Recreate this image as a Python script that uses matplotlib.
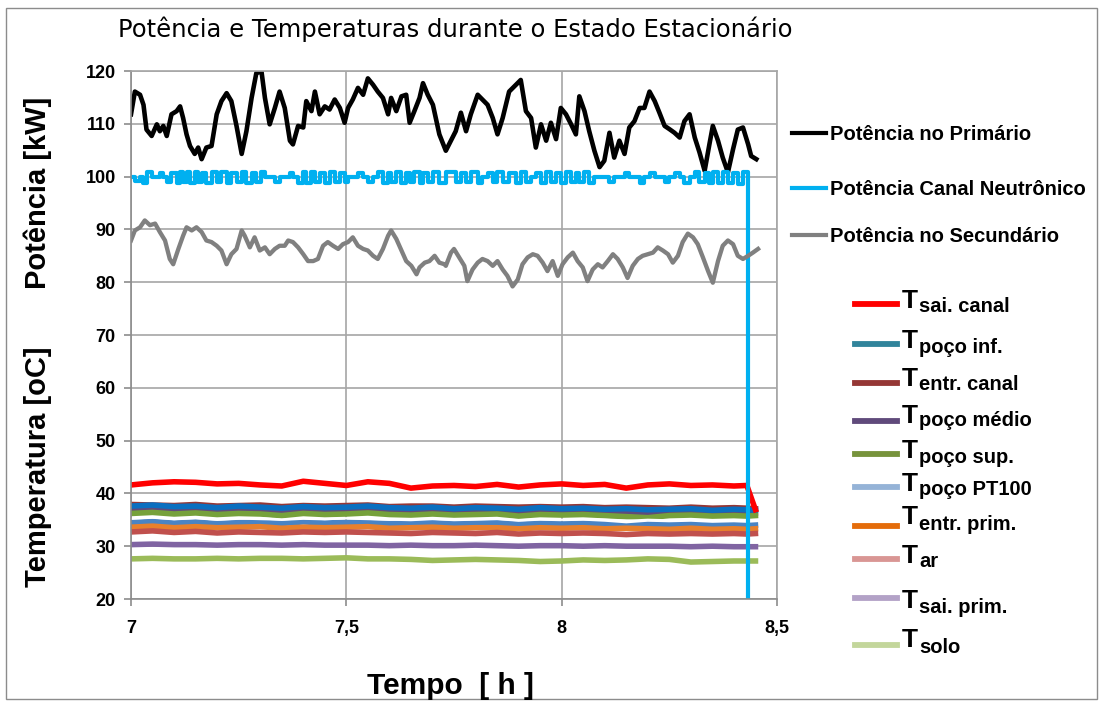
import matplotlib
matplotlib.use('Agg')
import matplotlib.pyplot as plt
from matplotlib.lines import Line2D
from matplotlib.patches import Rectangle

W, H = 1104, 702

# --- potência no primário [kW] ---
tempo_prim = [7.000, 7.009, 7.021, 7.029, 7.036, 7.048, 7.060, 7.067, 7.075, 7.083,
              7.094, 7.106, 7.114, 7.121, 7.129, 7.137, 7.148, 7.156, 7.164, 7.175,
              7.187, 7.199, 7.210, 7.222, 7.233, 7.245, 7.257, 7.268, 7.280, 7.291,
              7.303, 7.311, 7.322, 7.334, 7.345, 7.357, 7.369, 7.376, 7.388, 7.400,
              7.407, 7.419, 7.427, 7.438, 7.450, 7.461, 7.473, 7.485, 7.496, 7.504,
              7.515, 7.527, 7.539, 7.550, 7.562, 7.573, 7.585, 7.597, 7.604, 7.616,
              7.628, 7.639, 7.647, 7.658, 7.670, 7.678, 7.689, 7.701, 7.716,
              7.731, 7.754, 7.766, 7.778, 7.789, 7.805, 7.816, 7.828, 7.840, 7.851,
              7.863, 7.878, 7.894, 7.905, 7.917, 7.929, 7.940, 7.952, 7.964, 7.975,
              7.987, 7.998, 8.010, 8.022, 8.033, 8.041, 8.053, 8.064, 8.076, 8.088,
              8.099, 8.111, 8.122, 8.134, 8.146, 8.157, 8.169, 8.181, 8.192, 8.204,
              8.216, 8.227, 8.239, 8.250, 8.262, 8.274, 8.285, 8.297, 8.309, 8.320,
              8.332, 8.343, 8.351, 8.363, 8.374, 8.386, 8.398, 8.409, 8.421, 8.433,
              8.440, 8.452]
pot_prim = [111.8, 116.1, 115.5, 113.6, 108.9, 107.7, 109.9, 108.6, 109.6, 107.7,
            111.8, 112.4, 113.3, 111.1, 108.0, 105.8, 104.3, 105.5, 103.3, 105.5,
            105.8, 111.8, 114.3, 115.8, 114.3, 109.6, 104.3, 108.6, 114.9, 119.6,
            119.9, 114.9, 109.9, 113.0, 116.1, 113.0, 106.8, 106.1, 109.6, 109.3,
            114.3, 112.4, 116.1, 111.8, 113.3, 112.7, 114.6, 113.0, 110.2, 113.0,
            114.6, 116.8, 115.5, 118.6, 117.4, 116.1, 114.9, 111.8, 114.9, 112.4,
            115.2, 115.5, 110.2, 112.4, 114.9, 117.7, 115.5, 113.6, 108.0,
            104.9, 108.6, 112.1, 108.6, 111.8, 115.5, 114.6, 113.6, 111.1, 108.0,
            111.1, 116.1, 117.4, 118.3, 112.4, 111.1, 105.5, 109.9, 106.8, 110.2,
            107.1, 113.0, 111.8, 109.9, 108.0, 115.2, 112.4, 108.6, 104.9, 101.8,
            103.0, 108.3, 103.6, 106.8, 104.3, 109.3, 110.5, 113.0, 113.0, 116.1,
            114.3, 112.1, 109.6, 109.0, 108.3, 107.4, 110.5, 111.8, 107.4, 104.6,
            101.1, 106.1, 109.6, 106.8, 103.6, 100.8, 105.2, 108.9, 109.3, 106.1,
            103.9, 103.3]

# --- potência canal neutrônico [kW] (mesma base de tempo, até o desligamento) ---
pot_canal = [100, 99.2, 100, 98.8, 100.8, 100, 100, 100.6, 100, 98.9,
             100.7, 98.8, 100.8, 99.0, 100.9, 98.7, 100.8, 98.9, 100.7, 98.8,
             100.8, 99.0, 100.9, 98.8, 100.7, 98.9, 100.8, 98.7, 100.6, 99.0,
             100.8, 100, 100, 98.9, 100, 100, 100.6, 100, 98.8, 100.8,
             98.7, 100.9, 99.0, 100.7, 98.8, 100.8, 98.9, 100.6, 99.0, 100,
             100, 100.7, 100, 98.9, 100, 100.8, 98.8, 100.7, 98.9, 100.8,
             98.7, 100.6, 99.0, 100.8, 98.8, 100.7, 98.9, 100.8, 98.7,
             100.8, 98.9, 100.7, 99.0, 100.8, 98.8, 100, 100.7, 98.9, 100.8,
             99.0, 100.7, 98.8, 100.8, 98.9, 100, 100.7, 98.8, 100.8, 98.9,
             100.7, 98.8, 100.8, 99.0, 100.7, 98.9, 100.8, 98.7, 100, 100,
             100, 98.9, 100, 100, 100.6, 100, 100, 98.8, 100, 100.7,
             100, 100, 98.9, 100, 100.7, 100, 98.8, 100, 100.8, 99.0,
             100.7, 98.8, 100.8, 98.7, 100.9, 98.8, 100.7, 98.6, 100.8]
t_desliga = 8.432

# --- potência no secundário [kW] ---
tempo_sec = [7.000, 7.009, 7.021, 7.032, 7.044, 7.056, 7.067, 7.079, 7.090, 7.098,
             7.110, 7.121, 7.129, 7.141, 7.152, 7.164, 7.175, 7.187, 7.199, 7.210,
             7.222, 7.233, 7.245, 7.257, 7.264, 7.276, 7.287, 7.299, 7.311, 7.322,
             7.334, 7.345, 7.357, 7.365, 7.376, 7.388, 7.400, 7.411, 7.423, 7.434,
             7.446, 7.457, 7.469, 7.481, 7.492, 7.504, 7.515, 7.527, 7.539, 7.550,
             7.562, 7.573, 7.585, 7.597, 7.604, 7.616, 7.628, 7.639, 7.651, 7.663,
             7.670, 7.682, 7.693, 7.705, 7.716, 7.728,
             7.731, 7.743, 7.750, 7.762, 7.774, 7.781, 7.793, 7.805, 7.816, 7.828,
             7.840, 7.851, 7.863, 7.874, 7.886, 7.898, 7.909, 7.921, 7.933, 7.944,
             7.956, 7.967, 7.979, 7.991, 8.002, 8.014, 8.026, 8.037, 8.049, 8.060,
             8.072, 8.084, 8.095, 8.107, 8.119, 8.130, 8.142, 8.153, 8.165, 8.177,
             8.188, 8.200, 8.212, 8.223, 8.235, 8.247, 8.258, 8.270, 8.281, 8.293,
             8.305, 8.316, 8.328, 8.340, 8.351, 8.363, 8.374, 8.386, 8.398, 8.409,
             8.421, 8.433, 8.444, 8.456]
pot_sec = [87.9, 89.8, 90.4, 91.7, 90.8, 91.1, 89.5, 87.9, 84.4, 83.4,
           86.3, 88.8, 90.4, 89.8, 90.4, 89.5, 87.9, 87.6, 86.9, 86.0,
           83.4, 85.3, 86.3, 89.8, 88.8, 86.6, 88.5, 86.0, 86.6, 85.3,
           86.3, 86.9, 86.9, 87.9, 87.6, 86.6, 85.3, 84.0, 84.0, 84.4,
           86.9, 87.6, 86.9, 86.3, 87.2, 87.6, 88.5, 86.9, 86.3, 86.0,
           85.0, 84.4, 86.3, 88.8, 89.8, 88.2, 86.0, 84.0, 83.1, 81.5,
           82.8, 83.7, 84.0, 85.0, 83.7, 83.4,
           83.1, 85.6, 86.3, 84.7, 83.1, 80.2, 82.4, 83.7, 84.4, 84.0,
           83.1, 84.0, 82.4, 81.2, 79.2, 80.5, 83.4, 84.7, 85.3, 85.0,
           83.7, 82.1, 84.0, 81.2, 83.4, 84.7, 85.6, 84.0, 82.8, 80.2,
           82.4, 83.4, 82.8, 84.0, 85.3, 84.4, 82.8, 80.8, 83.1, 84.4,
           85.0, 85.3, 85.6, 86.6, 86.0, 85.3, 83.7, 85.0, 87.6, 89.2,
           88.5, 87.2, 84.7, 82.1, 79.9, 84.0, 86.9, 87.9, 87.2, 85.0,
           84.4, 85.0, 85.6, 86.3]

# --- temperaturas [oC] ---
tempo_temp = [7.00, 7.05, 7.10, 7.15, 7.20, 7.25, 7.30, 7.35, 7.40, 7.45,
              7.50, 7.55, 7.60, 7.65, 7.70, 7.75, 7.80, 7.85, 7.90, 7.95,
              8.00, 8.05, 8.10, 8.15, 8.20, 8.25, 8.30, 8.35, 8.40, 8.43, 8.45]
t_sai_canal = [41.6, 42.0, 42.2, 42.1, 41.8, 41.9, 41.6, 41.4, 42.3, 41.9,
               41.5, 42.2, 41.9, 41.0, 41.4, 41.5, 41.3, 41.7, 41.2, 41.6,
               41.8, 41.5, 41.7, 41.0, 41.6, 41.8, 41.5, 41.6, 41.4, 41.5, 36.9]
t_poco_inf = [37.6, 37.8, 37.5, 37.6, 37.3, 37.6, 37.4, 37.2, 37.5, 37.3,
              37.4, 37.6, 37.3, 37.2, 37.4, 37.1, 37.3, 37.2, 37.0, 37.3,
              37.1, 37.2, 37.0, 37.1, 36.9, 37.0, 37.1, 36.8, 37.0, 36.9, 36.8]
t_entr_canal = [37.9, 37.8, 37.7, 37.9, 37.6, 37.7, 37.8, 37.5, 37.7, 37.6,
                37.7, 37.8, 37.5, 37.6, 37.6, 37.4, 37.6, 37.5, 37.4, 37.5,
                37.4, 37.5, 37.3, 37.4, 37.3, 37.2, 37.4, 37.2, 37.3, 37.2, 37.1]
t_poco_medio = [36.8, 36.9, 36.7, 36.8, 36.6, 36.8, 36.7, 36.6, 36.8, 36.6,
                36.7, 36.8, 36.6, 36.5, 36.7, 36.5, 36.6, 36.6, 36.4, 36.6,
                36.5, 36.5, 36.4, 36.5, 36.3, 36.4, 36.5, 36.3, 36.4, 36.3, 36.3]
t_poco_sup = [36.2, 36.4, 36.1, 36.3, 36.0, 36.2, 36.1, 35.8, 36.2, 36.0,
              36.1, 36.3, 36.0, 35.9, 36.1, 35.9, 36.0, 36.1, 35.7, 36.0,
              35.9, 36.0, 35.8, 35.6, 35.4, 35.8, 35.9, 35.7, 35.8, 35.7, 35.8]
t_fundo = [35.2, 35.4, 35.1, 35.3, 35.0, 35.2, 35.3, 35.0, 35.2, 35.1,
           35.3, 35.2, 35.0, 35.1, 35.2, 35.0, 35.1, 35.2, 34.9, 35.1,
           35.0, 35.1, 35.0, 34.8, 35.0, 34.9, 35.0, 34.8, 34.9, 34.8, 34.9]
t_poco_pt100 = [34.5, 34.7, 34.4, 34.6, 34.3, 34.5, 34.4, 34.3, 34.6, 34.4,
                34.5, 34.4, 34.3, 34.2, 34.4, 34.2, 34.3, 34.4, 34.1, 34.3,
                34.2, 34.3, 34.1, 33.8, 34.1, 34.0, 34.1, 33.9, 34.0, 33.9, 34.0]
t_entr_prim = [33.6, 33.8, 33.5, 33.7, 33.5, 33.6, 33.7, 33.4, 33.6, 33.5,
               33.6, 33.7, 33.4, 33.5, 33.6, 33.4, 33.5, 33.5, 33.3, 33.5,
               33.4, 33.5, 33.3, 33.4, 33.3, 33.2, 33.4, 33.2, 33.3, 33.2, 33.3]
t_ar = [32.7, 32.9, 32.6, 32.8, 32.5, 32.7, 32.6, 32.5, 32.7, 32.6,
        32.7, 32.6, 32.5, 32.4, 32.6, 32.5, 32.4, 32.6, 32.3, 32.5,
        32.4, 32.5, 32.4, 32.2, 32.4, 32.3, 32.4, 32.3, 32.4, 32.3, 32.4]
t_sai_prim = [30.3, 30.4, 30.3, 30.3, 30.2, 30.3, 30.3, 30.2, 30.3, 30.2,
              30.2, 30.2, 30.1, 30.2, 30.1, 30.1, 30.2, 30.1, 30.0, 30.1,
              30.1, 30.0, 30.1, 30.0, 30.0, 30.0, 29.9, 30.0, 29.9, 29.9, 29.9]
t_solo = [27.6, 27.7, 27.6, 27.6, 27.7, 27.6, 27.7, 27.7, 27.6, 27.7,
          27.8, 27.6, 27.6, 27.5, 27.3, 27.4, 27.5, 27.4, 27.3, 27.1,
          27.2, 27.4, 27.3, 27.4, 27.6, 27.5, 27.0, 27.1, 27.2, 27.2, 27.2]

pot_labels = ['Potência no Primário', 'Potência Canal Neutrônico', 'Potência no Secundário']
temp_subs = ['sai. canal', 'poço inf.', 'entr. canal', 'poço médio', 'poço sup.',
             'poço PT100', 'entr. prim.', 'ar', 'sai. prim.', 'solo']
temp_leg_colors = ['#FF0000', '#31849B', '#953735', '#604A7B', '#77933C',
                   '#95B3D7', '#E46C0A', '#D99694', '#B3A2C7', '#C3D69B']

x_ticks = [7, 7.5, 8, 8.5]
x_tick_labels = ['7', '7,5', '8', '8,5']
y_ticks = [20, 30, 40, 50, 60, 70, 80, 90, 100, 110, 120]


def fx(px):
    return px / W


def fy(py):
    return 1 - py / H


BOLD = 'Liberation Sans'

fig = plt.figure(figsize=(W / 100, H / 100), dpi=100)
fig.patch.set_facecolor('white')
fig.add_artist(Rectangle((fx(6), fy(699)), fx(1097) - fx(6), fy(8) - fy(699),
                         transform=fig.transFigure, fill=False,
                         edgecolor='#8C8C8C', linewidth=1.0))

ax = fig.add_axes([fx(131), fy(599), fx(777) - fx(131), fy(71) - fy(599)])
ax.set_xlim(7, 8.5)
ax.set_ylim(20, 120)
ax.set_xticks(x_ticks)
ax.set_xticklabels(x_tick_labels)
ax.set_yticks(y_ticks)
ax.grid(True, color='#A6A6A6', linewidth=1.2)
ax.set_axisbelow(True)
for sp in ax.spines.values():
    sp.set_color('#A6A6A6')
    sp.set_linewidth(1.2)
ax.spines['left'].set_color('#8C8C8C')
ax.spines['bottom'].set_color('#8C8C8C')
ax.tick_params(axis='both', direction='out', length=5, width=1.2, color='#8C8C8C',
               labelsize=13)
ax.tick_params(axis='y', pad=6)
ax.tick_params(axis='x', pad=10)
for lab in ax.get_xticklabels() + ax.get_yticklabels():
    lab.set_fontfamily(BOLD)
    lab.set_fontweight('bold')

# temperaturas
temp_series = [
    (t_entr_canal, '#953735'),
    (t_poco_medio, '#604A7B'),
    (t_poco_inf, '#0A6FC0'),
    (t_poco_sup, '#76A13B'),
    (t_poco_pt100, '#4A84C4'),
    (t_entr_prim, '#E8802C'),
    (t_ar, '#C0504D'),
    (t_sai_prim, '#8064A2'),
    (t_solo, '#9BBB59'),
    (t_sai_canal, '#FF0000'),
]
for vals, col in temp_series:
    ax.plot(tempo_temp, vals, color=col, linewidth=4.0, solid_joinstyle='round')
ax.plot(tempo_temp, t_fundo, color='white', linewidth=1.6)

# potências
ax.plot(tempo_prim, pot_prim, color='black', linewidth=3.3, solid_joinstyle='round')
tempo_canal = tempo_prim[:len(pot_canal)] + [t_desliga, t_desliga]
ax.plot(tempo_canal, pot_canal + [100, 0], color='#00B0F0', linewidth=3.0,
        drawstyle='steps-post')
ax.plot(tempo_sec, pot_sec, color='#808080', linewidth=3.1, solid_joinstyle='round')

# títulos e rótulos
fig.text(fx(118), fy(37), 'Potência e Temperaturas durante o Estado Estacionário',
         fontsize=17.5, family='DejaVu Sans', ha='left', va='baseline')
fig.text(fx(38), fy(193), 'Potência [kW]', rotation=90, fontsize=21, family=BOLD,
         fontweight='bold', ha='center', va='center')
fig.text(fx(38), fy(467), 'Temperatura [oC]', rotation=90, fontsize=21, family=BOLD,
         fontweight='bold', ha='center', va='center')
fig.text(fx(450), fy(694), 'Tempo  [ h ]', fontsize=21.5, family=BOLD,
         fontweight='bold', ha='center', va='baseline')

# legenda das potências
pot_colors = ['black', '#00B0F0', '#808080']
pot_leg_y = [133, 188, 235]
for lab, col, y in zip(pot_labels, pot_colors, pot_leg_y):
    fig.add_artist(Line2D([fx(792), fx(826)], [fy(y), fy(y)], transform=fig.transFigure,
                          color=col, linewidth=3.0))
    fig.text(fx(830), fy(y + 7), lab, fontsize=14.5, family=BOLD, fontweight='bold',
             ha='left', va='baseline')

# legenda das temperaturas
hand_y = [304, 344, 383, 421, 454, 487, 526, 559, 598, 645]
t_base = [308, 348, 386, 423, 458, 491, 524, 563, 608, 647]
sub_base = [312, 353, 390, 426, 463, 495, 530, 567, 613, 653]
for sub, col, hy, tb, sb in zip(temp_subs, temp_leg_colors, hand_y, t_base, sub_base):
    fig.add_artist(Line2D([fx(855), fx(897)], [fy(hy), fy(hy)], transform=fig.transFigure,
                          color=col, linewidth=4.2))
    fig.text(fx(902), fy(tb), 'T', fontsize=19, family=BOLD, fontweight='bold',
             ha='left', va='baseline')
    fig.text(fx(919), fy(sb), sub, fontsize=14.5, family=BOLD, fontweight='bold',
             ha='left', va='baseline')

fig.savefig('out.png', dpi=100)
